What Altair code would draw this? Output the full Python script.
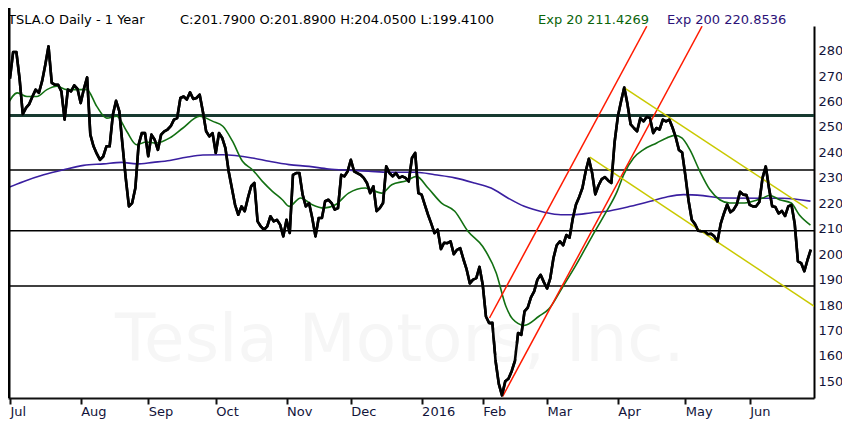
import altair as alt
import pandas as pd

# ---- data ----
CLOSE = [
    269, 279.5, 279.5, 269, 255, 257.5, 259, 262, 264.7, 263.4,
    268, 274.5, 281.7, 267.3, 266.6, 266.6, 264, 252.9, 264.7, 264,
    266.4, 265, 259.4, 265, 269.5, 247, 242.4, 239.5, 237.1, 238.4,
    242.4, 242.4, 254.8, 260.3, 256.2, 243, 230, 218.8, 220.1, 226,
    243, 247.6, 247.6, 238.5, 247, 245, 241, 247, 248.3, 249,
    250.3, 252.9, 253.5, 261.4, 262, 260.8, 263.6, 261, 261.4, 262.7,
    256, 248.3, 246.3, 247.6, 239.8, 247.6, 245.7, 241.7, 232.6, 226,
    219.4, 215.5, 218.8, 216.9, 222.1, 226.7, 228, 212.9, 210.9, 209.6,
    210.9, 214.9, 212.9, 213.5, 211.6, 207, 213.5, 208.3, 231.2, 231.9,
    231.9, 223.4, 218.8, 220.1, 214.2, 207, 214.2, 214.2, 220.8, 221.4,
    220.1, 217.5, 218.1, 231.2, 230.6, 232.6, 237.1, 232.6, 231.9, 231.2,
    230, 228, 224, 226.7, 216.9, 218.1, 220.1, 234.5, 231.9, 230.6,
    231.9, 230, 230.6, 230, 228.6, 237.8, 239.8, 224, 223.4, 219.4,
    215.5, 212, 208.3, 209.6, 202, 204.5, 204.3, 205, 200, 201.7,
    202.4, 198, 194, 188.5, 190, 190.6, 195, 188, 175.5, 172.9,
    173, 158, 149, 144.5, 150, 151, 154, 158, 169, 168.3,
    177.5, 179, 183, 185.4, 190, 191.9, 189, 186.5, 190.5, 198.5,
    203.5, 205, 203.5, 207.5, 206.5, 214, 219.5, 222.5, 226, 232.5,
    237.5, 232, 223.5, 227, 229.5, 230.3, 229, 228, 244, 254,
    260, 265.5, 259, 251, 249.6, 248.3, 253.5, 252.2, 254, 253.5,
    247.6, 249.6, 249, 252.9, 252.2, 252.9, 249.8, 246, 241, 240,
    231, 221, 213.5, 211.8, 209.2, 209, 209, 207.8, 208, 207,
    205, 212, 216, 219.5, 216.5, 217.5, 219.6, 224.5, 223.4, 223.2,
    219.4, 218.8, 218.8, 220.5, 230, 234.5, 226, 218.8, 218.5, 216,
    217, 215, 218.8, 219.4, 212, 197.2, 196.5, 193.3, 197.8, 201.79,
]

EXP20_DAY = [-0.9, 2.3, 5.3, 8.4, 11.5, 14.6, 17.7, 20.8, 23.9, 27.0,
             30.1, 33.2, 36.3, 39.4, 42.4, 45.5, 49.7, 53.8, 59.0, 63.1,
             66.2, 69.2, 72.3, 75.4, 78.5, 81.6, 84.7, 86.8, 90.4, 94.0,
             97.6, 101.2, 105.3, 110.5, 115.6, 118.7, 123.3, 126.4, 130.0, 134.2,
             138.3, 142.4, 147.0, 151.2, 154.2, 156.3, 159.9, 164.5, 167.6, 171.8,
             175.9, 181.0, 185.2, 188.8, 190.8, 193.9, 197.0, 201.1, 204.2, 206.8,
             208.9, 211.4, 214.5, 217.6, 220.7, 223.8, 227.9, 231.0, 234.1, 236.2,
             239.3, 242.9, 245.4, 248.9]
EXP20_VAL = [258.5, 263.4, 262, 262, 264.7, 266, 264.7, 264.7, 264.7, 258.1,
             253.5, 254.2, 248.3, 243, 244.1, 243.7, 245.7, 249.6, 254.2, 252.2,
             250.3, 244.4, 236.5, 233.2, 228.6, 224.7, 221.4, 218.8, 222.1, 219.4,
             218.1, 219.4, 224, 226, 224, 227.3, 228.9, 230.6, 226, 220.1,
             216.9, 209, 203, 192.6, 179.5, 174.5, 172, 175.6, 178.5, 187,
             195.5, 207, 216.2, 224.7, 231.2, 237.8, 241.1, 243.7, 245.7, 246.7,
             245.7, 241.1, 232.6, 225.4, 221.4, 220.1, 220.1, 220.8, 222.1, 223.1,
             221.4, 220.1, 215.5, 211.43]

EXP200_DAY = [-0.9, 4.3, 10.5, 16.7, 22.9, 29.1, 34.7, 39.4, 44.5, 49.7,
              54.8, 60.0, 66.2, 75.4, 80.6, 86.8, 93.0, 99.1, 105.3, 111.5,
              117.7, 126.4, 132.1, 138.3, 144.4, 149.6, 154.8, 159.9, 166.1, 171.3,
              175.4, 180.5, 186.7, 192.9, 199.1, 204.2, 209.4, 215.5, 221.7, 234.1,
              240.3, 248.9]
EXP200_VAL = [226, 228.6, 231.2, 233.2, 234.9, 235.5, 236.1, 235.5, 236.1, 236.8,
              238.1, 239, 239.1, 237.8, 236.5, 235.2, 234.5, 233.5, 233, 232.6,
              232.2, 232.2, 231.2, 230, 228, 226, 222.1, 218.8, 216.5, 215.5,
              215.5, 216.2, 217.1, 218.8, 220.8, 222.5, 223.4, 223, 222.1, 222,
              222, 220.85]

LEVELS_MAIN = [254.5]
LEVELS = [233.1, 209.2, 187.5]

# trend lines: start day, start price, end day, end price
RED = [(149.1, 174.9, 198.0, 289.6), (153.2, 144.1, 215.2, 289.6)]
YELLOW = [(190.8, 265.6, 248.0, 217.9), (180.3, 238.1, 250.1, 179.5)]

MONTH_POS = [0, 22, 43, 64, 86, 106, 128, 147, 167, 189, 210, 230]
MONTH_LABELS = ["Jul", "Aug", "Sep", "Oct", "Nov", "Dec", "2016",
                "Feb", "Mar", "Apr", "May", "Jun"]
Y_TICKS = [150, 160, 170, 180, 190, 200, 210, 220, 230, 240, 250, 260, 270, 280]

HEADER = [
    ("TSLA.O Daily -  1 Year", 0, "#000000"),
    ("C:201.7900 O:201.8900 H:204.0500 L:199.4100", 172, "#000000"),
    ("Exp 20 211.4269", 530, "#0a640a"),
    ("Exp 200 220.8536", 659, "#2c1278"),
]
WATERMARK = "Tesla Motors, Inc."

FONT = "DejaVu Sans"
LABEL_COLOR = "#12143a"

# ---- tables ----
price = pd.DataFrame({"day": list(range(len(CLOSE))), "v": CLOSE})
ema20 = pd.DataFrame({"day": EXP20_DAY, "v": EXP20_VAL})
ema200 = pd.DataFrame({"day": EXP200_DAY, "v": EXP200_VAL})
red = pd.DataFrame(RED, columns=["day", "v", "d2", "v2"])
yel = pd.DataFrame(YELLOW, columns=["day", "v", "d2", "v2"])
hl_main = pd.DataFrame({"v": LEVELS_MAIN})
hl = pd.DataFrame({"v": LEVELS})
hdr = pd.DataFrame(HEADER, columns=["t", "x", "c"])
wm = pd.DataFrame({"t": [WATERMARK]})

xscale = alt.Scale(domain=[-0.6, 250.0], nice=False, zero=False)
yscale = alt.Scale(domain=[143.45, 289.7], nice=False, zero=False)

label_expr = "[" + ",".join("'%s'" % m for m in MONTH_LABELS) + "][indexof([" + \
    ",".join(str(p) for p in MONTH_POS) + "], datum.value)]"

xaxis = alt.Axis(values=MONTH_POS, labelExpr=label_expr, title=None, grid=False,
                 domainColor="#111111", domainWidth=2, tickColor="#111111", tickWidth=2,
                 tickSize=6, labelAlign="left", labelBaseline="top", labelPadding=1,
                 labelFont=FONT, labelFontSize=13, labelColor=LABEL_COLOR,
                 labelFlush=False, labelOverlap=False, labelBound=False)
yaxis = alt.Axis(values=Y_TICKS, orient="right", title=None, grid=False,
                 domainColor="#000000", domainWidth=2, ticks=False, labelPadding=4,
                 labelFont=FONT, labelFontSize=13, labelColor=LABEL_COLOR,
                 labelFlush=False, labelOverlap=False)


def X():
    return alt.X("day:Q", scale=xscale, axis=xaxis)


def Y():
    return alt.Y("v:Q", scale=yscale, axis=yaxis)


black = alt.Chart(price).mark_line(color="#000000", strokeWidth=2.6, clip=True,
                                    strokeJoin="round").encode(x=X(), y=Y())

watermark = alt.Chart(wm).mark_text(
    font=FONT, fontSize=66, color="#f6f6f6", align="left", baseline="alphabetic"
).encode(text="t:N", x=alt.value(107), y=alt.value(335))

main_line = alt.Chart(hl_main).mark_rule(color="#173a30", strokeWidth=3).encode(y=Y())
other_lines = alt.Chart(hl).mark_rule(color="#000000", strokeWidth=1.6).encode(y=Y())

purple = alt.Chart(ema200).mark_line(color="#3a1fa0", strokeWidth=1.6, clip=True,
                                      interpolate="monotone").encode(x=X(), y=Y())
green = alt.Chart(ema20).mark_line(color="#127012", strokeWidth=1.6, clip=True,
                                    interpolate="monotone").encode(x=X(), y=Y())

red_lines = alt.Chart(red).mark_rule(color="#ff1a00", strokeWidth=1.5, clip=True).encode(
    x=X(), x2="d2:Q", y=Y(), y2="v2:Q")
yellow_lines = alt.Chart(yel).mark_rule(color="#c9c900", strokeWidth=1.5, clip=True).encode(
    x=X(), x2="d2:Q", y=Y(), y2="v2:Q")

header = alt.Chart(hdr).mark_text(
    font=FONT, fontSize=13, align="left", baseline="alphabetic"
).encode(text="t:N", x=alt.X("x:Q", scale=None), y=alt.value(-2),
         color=alt.Color("c:N", scale=None))

left_edge = alt.Chart(wm).mark_rule(color="#000000", strokeWidth=3).encode(
    x=alt.value(1), y=alt.value(-18), y2=alt.value(372))

chart = alt.layer(
    black, watermark, main_line, other_lines, purple, green,
    red_lines, yellow_lines, black, header, left_edge
).properties(
    width=806, height=372,
    padding={"left": 0, "top": 18, "right": 28, "bottom": 22},
    autosize=alt.AutoSizeParams(type="none"),
    background="white",
).configure_view(stroke=None)

chart.save("out.html", embed_options={"renderer": "svg", "actions": False})
